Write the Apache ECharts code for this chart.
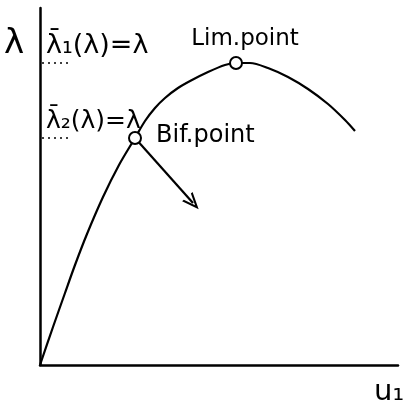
<!DOCTYPE html>
<html>
<head>
<meta charset="utf-8">
<script src="https://cdn.jsdelivr.net/npm/echarts@6/dist/echarts.min.js"></script>
<style>html,body{margin:0;padding:0;background:#fff}#c{width:408px;height:413px}</style>
</head>
<body>
<div id="c"></div>
<script>
// Equilibrium path: load parameter λ against displacement u1
const pathU = [0, 13, 25, 35, 47, 63, 79, 95, 105, 115, 125, 138, 152, 168, 185, 196, 210, 228, 248, 268, 288, 305, 315];
const pathLambda = [0, 38, 72, 100, 131, 168, 200, 227, 244, 257, 267, 277, 285, 293, 300, 302, 302, 297, 288, 276, 261, 245, 234];

// Critical points on the path
const critNames = ['Bif.point', 'Lim.point'];
const critU = [95, 196];
const critLambda = [227, 302];

// Post-buckling branch direction leaving the bifurcation point
const branchStart = [95, 227];
const branchEnd = [153, 162];

// Eigenvalue level labels
const levelLabels = ['λ̄₁(λ)=λ', 'λ̄₂(λ)=λ'];
const levelValues = [302, 227];

const xMax = 358, yMax = 357;
const font = '"DejaVu Sans", sans-serif';

const chart = echarts.init(document.getElementById('c'));
const gridLeft = 40, gridTop = 8, gridRight = 10, gridBottom = 48;
const plotH = 413 - gridTop - gridBottom;
const py = l => gridTop + plotH - l / yMax * plotH;

const txt = (x, y, s, size) => ({
  type: 'text', left: x, top: y,
  style: { text: s, fontSize: size, fontFamily: font, fill: '#000' }
});

chart.setOption({
  animation: false,
  backgroundColor: '#fff',
  grid: { left: gridLeft, right: gridRight, top: gridTop, bottom: gridBottom },
  xAxis: {
    type: 'value', min: 0, max: xMax,
    axisLine: { show: true, lineStyle: { color: '#000', width: 2.5 } },
    axisTick: { show: false }, axisLabel: { show: false }, splitLine: { show: false }
  },
  yAxis: {
    type: 'value', min: 0, max: yMax,
    axisLine: { show: true, lineStyle: { color: '#000', width: 2.5 } },
    axisTick: { show: false }, axisLabel: { show: false }, splitLine: { show: false }
  },
  graphic: [
    txt(4, 27, 'λ', 34),
    txt(46, py(levelValues[0]) - 31, levelLabels[0], 27),
    txt(46, py(levelValues[1]) - 29, levelLabels[1], 25),
    txt(374, 378, 'u₁', 29)
  ],
  series: [
    {
      type: 'line', smooth: 0.3, symbol: 'none',
      data: pathU.map((u, i) => [u, pathLambda[i]]),
      lineStyle: { color: '#000', width: 2.2 },
      markLine: {
        silent: true,
        symbol: ['none', 'path://M0,12 L5,0 L10,12 L8.4,12 L5,3.8 L1.6,12 Z'],
        symbolSize: [14, 17],
        label: { show: false },
        lineStyle: { color: '#000', width: 2.2, type: 'solid' },
        data: [[{ coord: branchStart }, { coord: branchEnd }]]
      },
      z: 2
    },
    {
      type: 'line', symbol: 'none', silent: true,
      data: [],
      markLine: {
        silent: true, symbol: ['none', 'none'],
        label: { show: false },
        lineStyle: { color: '#000', width: 1.6, type: [2, 4] },
        data: levelValues.map(v => [{ coord: [2, v] }, { coord: [30, v] }])
      }
    },
    {
      type: 'scatter',
      data: critU.map((u, i) => ({
        value: [u, critLambda[i]], name: critNames[i],
        label: i === 1
          ? { position: 'top', distance: 6, offset: [9, 1], fontSize: 23 }
          : { position: 'right', distance: 10, offset: [4, -2] }
      })),
      symbol: 'circle', symbolSize: 12,
      itemStyle: { color: '#fff', borderColor: '#000', borderWidth: 2, opacity: 1 },
      label: {
        show: true, formatter: '{b}', color: '#000',
        fontFamily: font, fontSize: 24
      },
      z: 5
    }
  ]
});
</script>
</body>
</html>
